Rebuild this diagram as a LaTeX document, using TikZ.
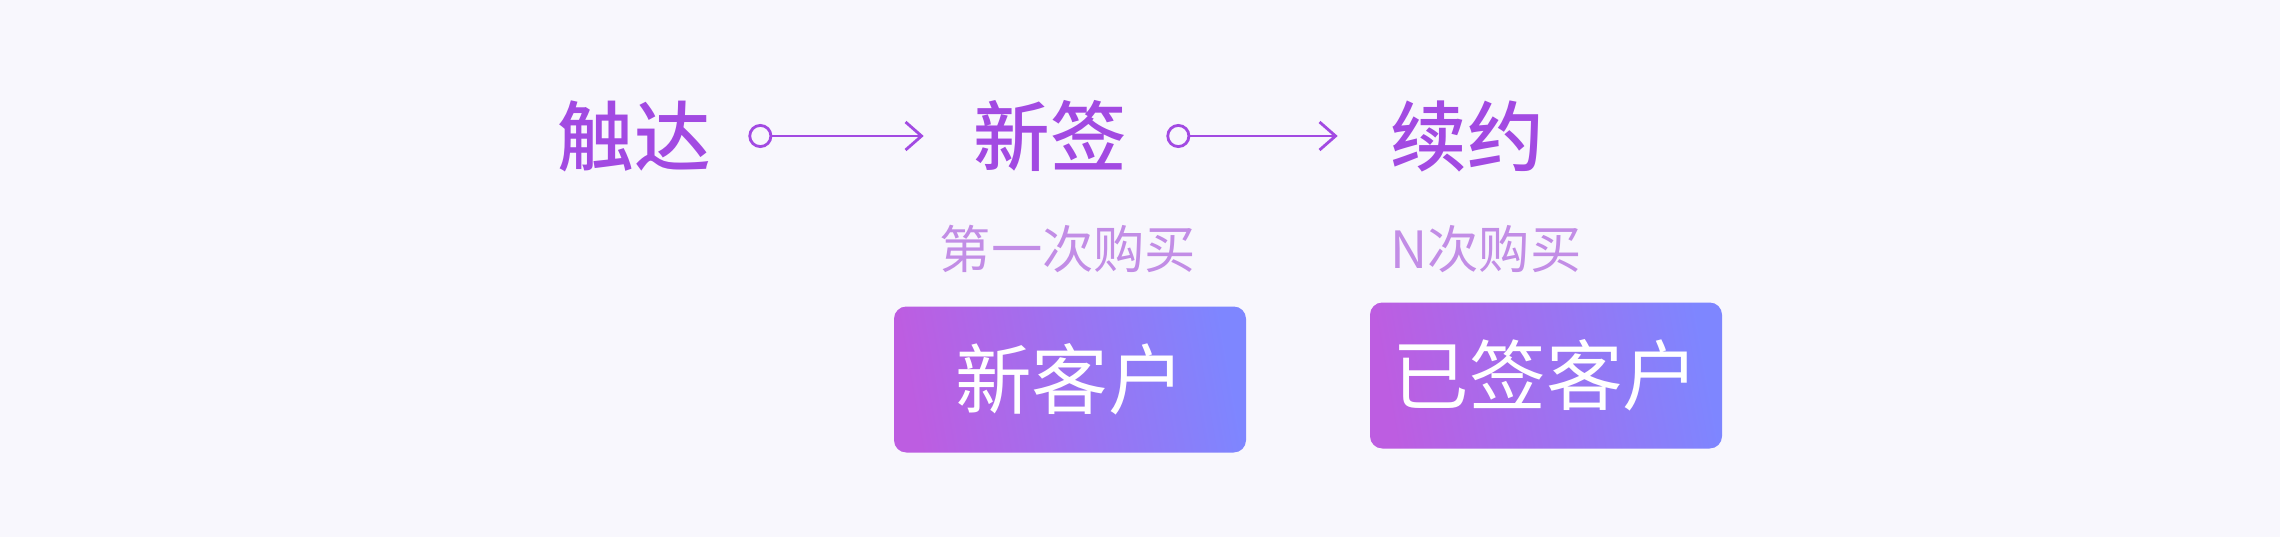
\documentclass[tikz,border=0pt]{standalone}
\usepackage{fontspec}
\setmainfont{Noto Sans CJK SC}
\newfontfamily\stagefont{Noto Sans CJK SC Medium}
\usepackage{xcolor}
\usetikzlibrary{arrows.meta,positioning}
\definecolor{bgpale}{HTML}{F8F7FD}
\definecolor{stagepurple}{HTML}{A24AE2}
\definecolor{notepurple}{HTML}{C28DE6}
\definecolor{tagleft}{HTML}{BD5DE1}
\definecolor{tagright}{HTML}{7E86FF}
\tikzset{
  stage/.style={inner sep=0pt, text=stagepurple, font=\fontsize{21.8pt}{24pt}\stagefont},
  note/.style={inner sep=0pt, text=notepurple, font=\fontsize{14.6pt}{16pt}\selectfont},
  tag/.style={rectangle, rounded corners=3.5pt, minimum width=3.52cm, minimum height=1.46cm,
              left color=tagleft, right color=tagright, shading angle=100, text=white,
              font=\fontsize{21.8pt}{24pt}\selectfont, inner sep=0pt},
  link/.style={{Circle[open,length=2.4mm,width=2.4mm]}-{Straight Barb[length=1.6mm,width=2.8mm]},
               line width=0.8pt, stagepurple},
}
\begin{document}
\begin{tikzpicture}
\fill[bgpale] (0,0) rectangle (22.8,-5.37);
\useasboundingbox (0,0) rectangle (22.8,-5.37);
% stages
\node[stage] (reach) at (6.34,-1.36) {触达};
\node[stage] (sign) at (10.50,-1.36) {新签};
\node[stage] (renew) at (14.67,-1.36) {续约};
\draw[link, shorten <=3.7mm, shorten >=4.9mm] (reach.east) -- (sign.west);
\draw[link, shorten <=3.9mm, shorten >=5.2mm] (sign.east) -- (renew.west);
% purchases
\node[note] (first) at (10.68,-2.49) {第一次购买};
\node[note] (nth) at (14.86,-2.49) {N次购买};
% customer tags
\node[tag] (newcust) at (10.70,-3.795) {新客户};
\node[tag] (signedcust) at (15.46,-3.755) {已签客户};
\end{tikzpicture}
\end{document}
